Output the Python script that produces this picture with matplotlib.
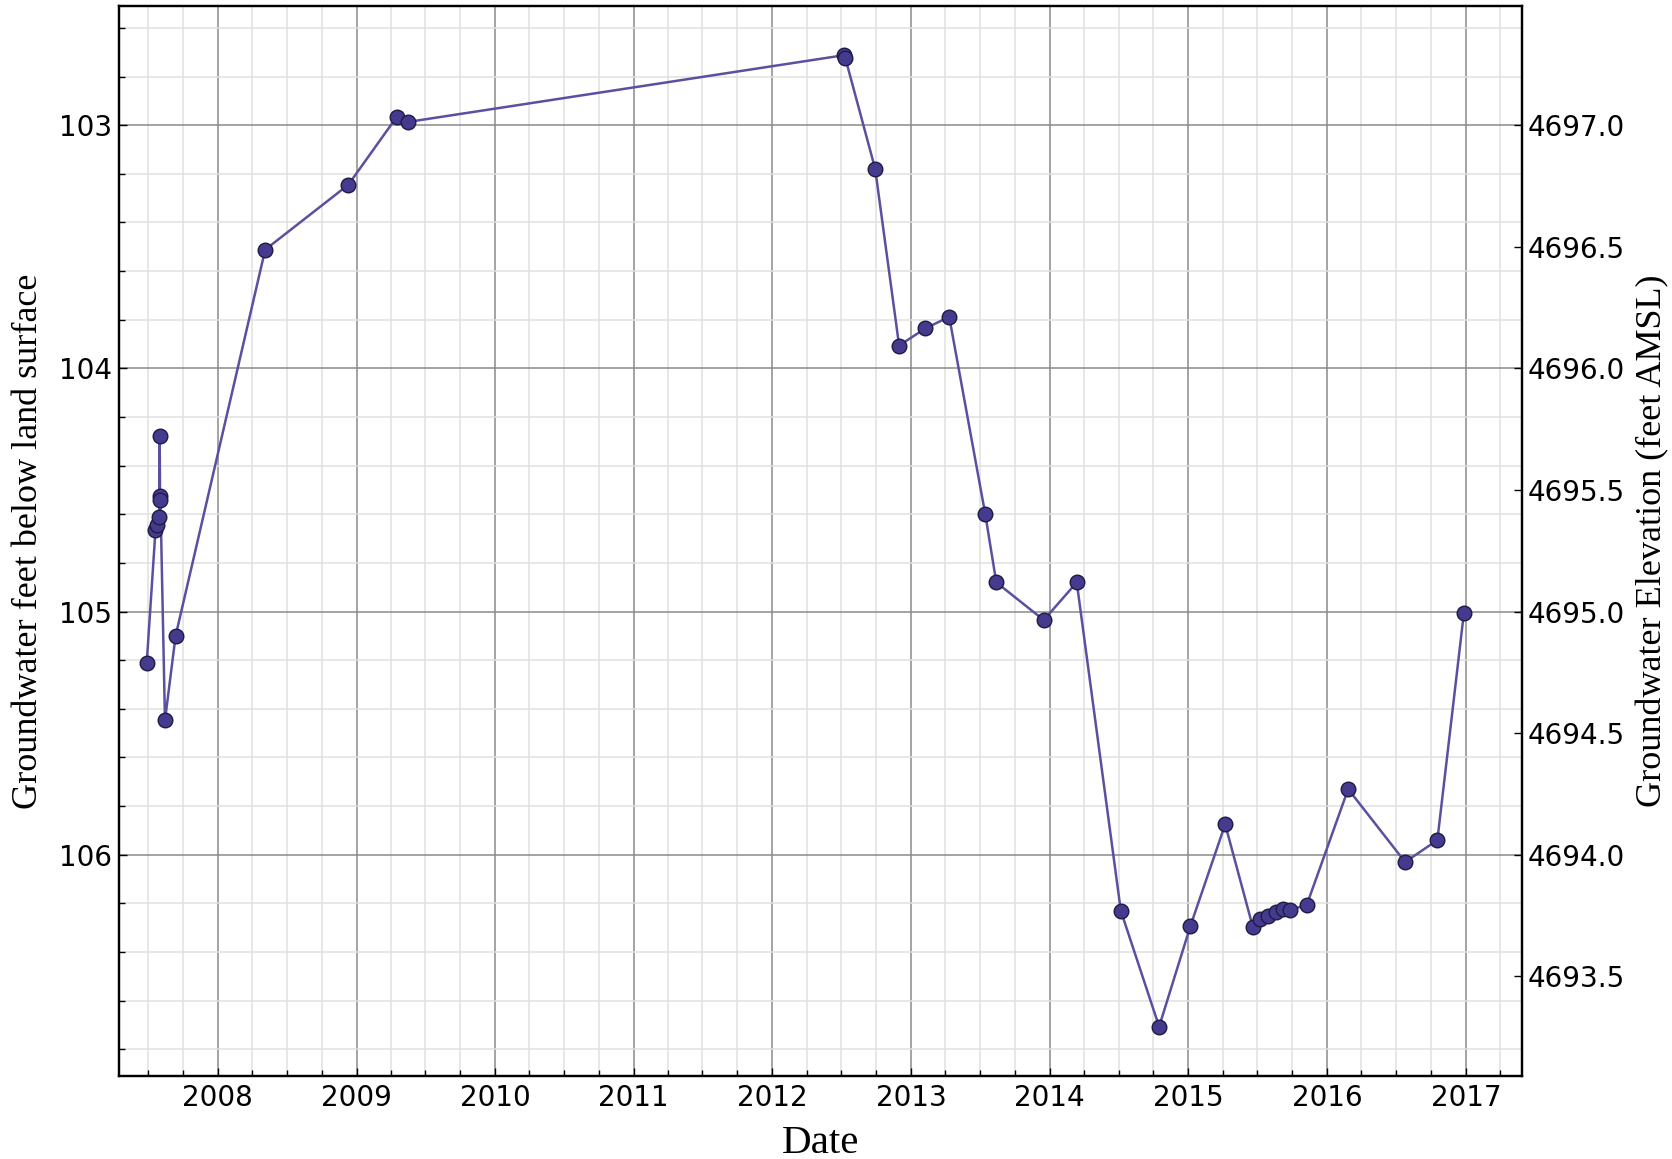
import pandas as pd
import matplotlib
matplotlib.use("Agg")
import matplotlib.pyplot as plt
import matplotlib.dates as mdates
from matplotlib.ticker import MultipleLocator, FormatStrFormatter

# measurement dates and depth to water (feet below land surface)
dates = ['2007-06-28', '2007-07-21', '2007-07-26', '2007-07-31', '2007-08-01',
         '2007-08-02', '2007-08-03', '2007-08-15', '2007-09-12',
         '2008-05-05', '2008-12-10', '2009-04-17', '2009-05-15',
         '2012-07-09', '2012-07-11', '2012-09-28', '2012-11-30',
         '2013-02-07', '2013-04-11', '2013-07-15', '2013-08-13', '2013-12-16',
         '2014-03-13', '2014-07-07', '2014-10-16', '2015-01-06',
         '2015-04-08', '2015-06-20', '2015-07-08', '2015-07-30', '2015-08-21',
         '2015-09-07', '2015-09-25', '2015-11-09',
         '2016-02-26', '2016-07-25', '2016-10-18', '2016-12-27']
depth = [105.21, 104.665, 104.644, 104.61, 104.277,
         104.525, 104.54, 105.447, 105.10,
         103.512, 103.245, 102.965, 102.987,
         102.712, 102.722, 103.18, 103.906,
         103.836, 103.788, 104.60, 104.88, 105.035,
         104.88, 106.23, 106.707, 106.295,
         105.875, 106.298, 106.263, 106.253, 106.236,
         106.225, 106.228, 106.206,
         105.73, 106.03, 105.94, 105.004]
land_surface = 4800.0

t = pd.to_datetime(dates)

fig = plt.figure(figsize=(16.72, 11.59), dpi=100)
ax = fig.add_axes([0.0712, 0.0716, 0.8391, 0.9232])

ax.plot(t, depth, '-', color='#5a50a0', lw=1.8, zorder=3)
ax.plot(t, depth, 'o', ms=10.5, mfc='#443b8e', mec='#1e1a45', mew=1.0, zorder=4)

ax.set_xlim(pd.Timestamp('2007-04-16'), pd.Timestamp('2017-05-29'))
ax.set_ylim(106.91, 102.51)

ax.xaxis.set_major_locator(mdates.YearLocator())
ax.xaxis.set_minor_locator(mdates.MonthLocator(bymonth=[4, 7, 10]))
ax.xaxis.set_major_formatter(mdates.DateFormatter('%Y'))
ax.yaxis.set_major_locator(MultipleLocator(1))
ax.yaxis.set_minor_locator(MultipleLocator(0.2))

ax.grid(which='major', color='#8a8a8a', lw=1.1)
ax.grid(which='minor', color='#e0e0e0', lw=1.1)
ax.set_axisbelow(True)

ax.tick_params(which='both', direction='in', labelsize=20)
ax.tick_params(axis='y', pad=5)
ax.tick_params(axis='x', pad=6)
ax.tick_params(which='major', length=6, width=1)
ax.tick_params(which='minor', length=4, width=1)
for s in ax.spines.values():
    s.set_linewidth(1.6)

ax.set_xlabel('Date', family='Liberation Serif', fontsize=29.5, labelpad=9)
ax.set_ylabel('Groundwater feet below land surface', family='Liberation Serif',
              fontsize=26, labelpad=10)

ax2 = ax.twinx()
lo, hi = ax.get_ylim()
ax2.set_ylim(land_surface - lo, land_surface - hi)
ax2.yaxis.set_major_locator(MultipleLocator(0.5))
ax2.yaxis.set_major_formatter(FormatStrFormatter('%.1f'))
ax2.tick_params(direction='in', labelsize=20, length=6, width=1, pad=4)
ax2.set_ylabel('Groundwater Elevation (feet AMSL)', family='Liberation Serif',
               fontsize=26, labelpad=8)
for s in ax2.spines.values():
    s.set_linewidth(1.6)

fig.savefig('out.png', dpi=100)
